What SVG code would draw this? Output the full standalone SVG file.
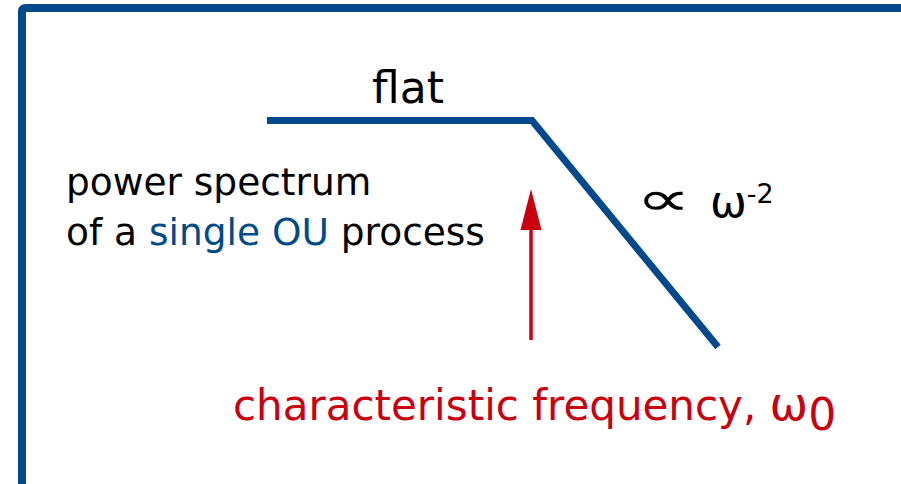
<svg xmlns="http://www.w3.org/2000/svg" width="901" height="484" viewBox="0 0 901 484">
<defs>
<style>
.t{font-family:"DejaVu Sans","Liberation Sans",sans-serif;fill:#000}
.blue{fill:#004A8C}
.red{fill:#C8000F}
</style>
</defs>
<rect width="901" height="484" fill="#fff"/>
<g id="frame"><path d="M22,490 V12 Q22,8 26,8 H910" fill="none" stroke="#004A8C" stroke-width="8"/></g>
<g id="connectors">
<polyline points="267,120.5 532,120.5 718,347" fill="none" stroke="#004A8C" stroke-width="7"/>
<line x1="531" y1="340" x2="531" y2="226" stroke="#C8000F" stroke-width="3.5"/>
<polygon points="531,189 541.5,230 520.5,230" fill="#C8000F"/>
</g>
<g id="label-flat"><text class="t" x="408" y="103" font-size="44" text-anchor="middle">flat</text></g>
<g id="label-power"><text class="t" x="66" y="195" font-size="37.5">power spectrum</text>
<text class="t" x="66" y="245" font-size="37.5">of a <tspan class="blue">single OU</tspan> process</text></g>
<g id="label-slope"><text class="t" transform="translate(636,215) scale(1.6,1)" font-size="48">∝</text><text class="t" x="710" y="217" font-size="44">ω<tspan font-size="27" dy="-14">-2</tspan></text></g>
<g id="label-freq"><text class="t red" x="233" y="420" font-size="42">characteristic frequency, <tspan font-size="46">ω</tspan><tspan font-size="44" dy="10">0</tspan></text></g>
</svg>
